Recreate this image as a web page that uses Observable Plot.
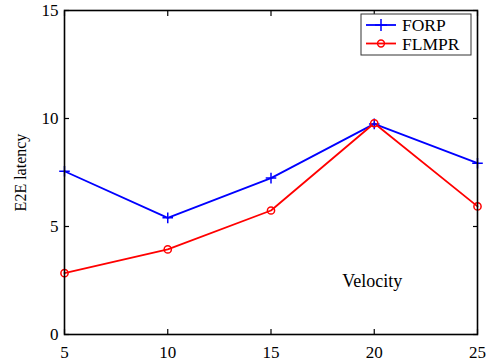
<!DOCTYPE html>
<html>
<head>
<meta charset="utf-8">
<script src="https://cdn.jsdelivr.net/npm/d3@7"></script>
<script src="https://cdn.jsdelivr.net/npm/@observablehq/plot@0.6"></script>
<style>
  html, body { margin: 0; padding: 0; background: #fff; }
  #wrap { position: relative; width: 488px; height: 362px; }
  #wrap svg, #wrap svg text { font-family: 'Liberation Serif', 'Times New Roman', serif !important; }
  #legend { position: absolute; left: 0; top: 0; pointer-events: none; }
</style>
</head>
<body>
<div id="wrap"></div>
<script>
const velocity = [5, 10, 15, 20, 25];
const forp = [7.56, 5.40, 7.24, 9.75, 7.93];
const flmpr = [2.84, 3.94, 5.74, 9.78, 5.93];
const xTicks = [5, 10, 15, 20, 25];
const yTicks = [0, 5, 10, 15];
const seriesNames = ["FORP", "FLMPR"];
const seriesColors = ["#0000ff", "#ff0000"];
const yLabel = "E2E latency";
const annotation = [{label: "Velocity", x: 19.9, y: 2.45}];

const rows = [];
velocity.forEach((v, i) => {
  rows.push({x: v, y: forp[i], series: "FORP"});
  rows.push({x: v, y: flmpr[i], series: "FLMPR"});
});

const font = "'Liberation Serif', 'Times New Roman', serif";
const W = 488, H = 362;
const mL = 64, mR = 11, mT = 10, mB = 28;

const plot = Plot.plot({
  width: W, height: H,
  marginLeft: mL, marginRight: mR, marginTop: mT, marginBottom: mB,
  style: {fontFamily: font, background: "#fff", color: "#000"},
  x: {domain: [5, 25]},
  y: {domain: [0, 15]},
  color: {domain: seriesNames, range: seriesColors},
  marks: [
    Plot.line(rows, {x: "x", y: "y", z: "series", stroke: "series", strokeWidth: 1.8}),
    Plot.dot(rows.filter(d => d.series === "FORP"), {x: "x", y: "y", symbol: "plus", r: 3.5, stroke: seriesColors[0], strokeWidth: 1.5}),
    Plot.dot(rows.filter(d => d.series === "FLMPR"), {x: "x", y: "y", symbol: "circle", r: 3.6, stroke: seriesColors[1], fill: "none", strokeWidth: 1.5}),
    Plot.text(annotation, {x: "x", y: "y", text: "label", fontSize: 18, fill: "#000"}),
    Plot.axisX(xTicks, {anchor: "bottom", tickSize: 0, tickPadding: 11, fontSize: 17, label: null}),
    Plot.axisX(xTicks, {anchor: "bottom", tickSize: -5, fill: "none", label: null, strokeWidth: 1.2}),
    Plot.axisX(xTicks, {anchor: "top", tickSize: -5, fill: "none", label: null, strokeWidth: 1.2}),
    Plot.axisY(yTicks, {anchor: "left", tickSize: 0, tickPadding: 6, fontSize: 17, label: yLabel, labelAnchor: "center", labelArrow: "none", labelOffset: 50}),
    Plot.axisY(yTicks, {anchor: "left", tickSize: -5, fill: "none", label: null, strokeWidth: 1.2}),
    Plot.axisY(yTicks, {anchor: "right", tickSize: -5, fill: "none", label: null, strokeWidth: 1.2}),
    Plot.frame({stroke: "#000", strokeWidth: 1.6})
  ]
});
plot.querySelectorAll("[aria-label='y-axis label'] text").forEach(t => t.setAttribute("font-size", 16));
document.getElementById("wrap").appendChild(plot);

// Legend overlay (inside plot area, top-right, like MATLAB)
const legend = d3.select("#wrap").append("svg")
  .attr("id", "legend").attr("width", W).attr("height", H);
const lx = 361, ly = 14, lw = 110, lh = 41;
legend.append("rect").attr("x", lx).attr("y", ly).attr("width", lw).attr("height", lh)
  .attr("fill", "#fff").attr("stroke", "#333").attr("stroke-width", 1);
seriesNames.forEach((name, i) => {
  const cy = ly + 11 + i * 18.5;
  const g = legend.append("g");
  g.append("line").attr("x1", lx + 5).attr("x2", lx + 35).attr("y1", cy).attr("y2", cy)
    .attr("stroke", seriesColors[i]).attr("stroke-width", 1.8);
  if (i === 0) {
    g.append("path").attr("d", d3.symbol(d3.symbolPlus, 48)()).attr("transform", `translate(${lx + 20},${cy})`)
      .attr("stroke", seriesColors[i]).attr("fill", "none").attr("stroke-width", 1.5);
  } else {
    g.append("circle").attr("cx", lx + 20).attr("cy", cy).attr("r", 3.4)
      .attr("stroke", seriesColors[i]).attr("fill", "none").attr("stroke-width", 1.5);
  }
  g.append("text").attr("x", lx + 41).attr("y", cy).attr("dy", "0.35em")
    .attr("font-family", font).attr("font-size", 17.5).attr("fill", "#000").text(name);
});
</script>
</body>
</html>
